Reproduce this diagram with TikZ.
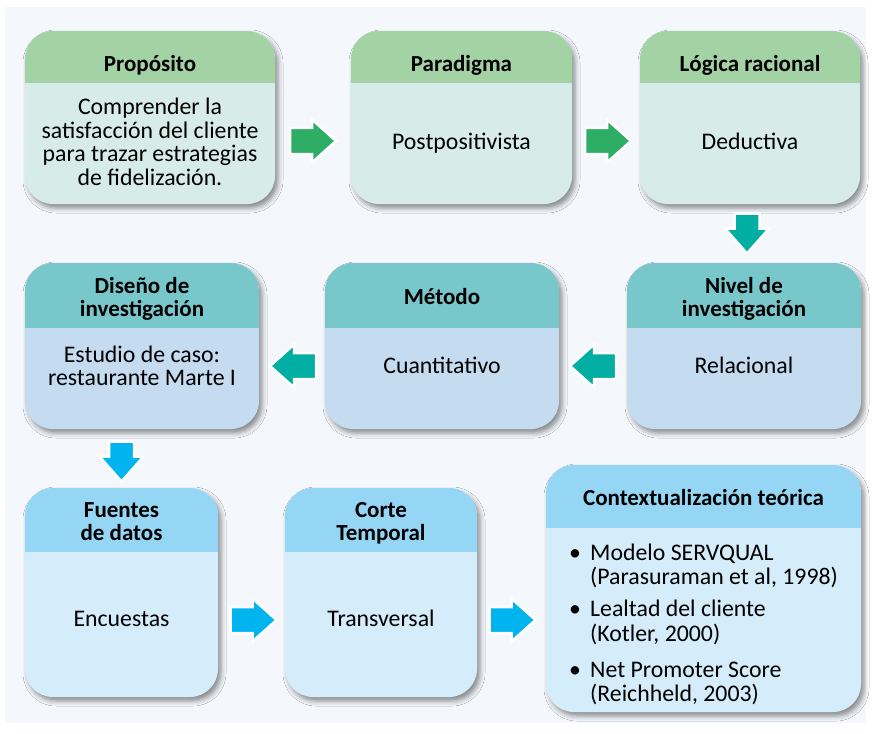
\documentclass[tikz,border=0pt]{standalone}
\usepackage{fontspec}
\setmainfont{Carlito}
\usetikzlibrary{calc,shadows.blur}

\definecolor{pagebg}{HTML}{F4F8FC}
\definecolor{hdrgreen}{HTML}{A3D2A5}
\definecolor{bodygreen}{HTML}{D7ECE9}
\definecolor{hdrteal}{HTML}{78C7CB}
\definecolor{bodyteal}{HTML}{C5DBF0}
\definecolor{hdrsky}{HTML}{96D6F5}
\definecolor{bodysky}{HTML}{D5ECFB}
\definecolor{arrgreen}{HTML}{2EAE64}
\definecolor{arrteal}{HTML}{00AFA1}
\definecolor{arrsky}{HTML}{00B4EF}

% stacked lines whose base is the baseline of the first line
\newcommand\stacklines[1]{\begin{tabular}[t]{@{}c@{}}#1\end{tabular}}

% #1 name, #2 x, #3 y, #4 width, #5 height, #6 header height, #7 header colour, #8 body colour
\newcommand\stagebox[8]{%
  \node[stagecard, minimum width=#4pt, minimum height=#5pt, fill=#8,
        path picture={\fill[#7, sharp corners]
          (path picture bounding box.north west) rectangle
          ([yshift=-#6pt]path picture bounding box.north east);}]
    (#1) at (#2,#3) {};}

\tikzset{
  stagecard/.style={anchor=north west, inner sep=0pt, outer sep=0pt,
    rounded corners=28pt,
    blur shadow={shadow xshift=3pt, shadow yshift=-4pt,
                 shadow blur radius=5pt, shadow opacity=45}},
  titletext/.style={anchor=base, inner sep=0pt,
    font=\bfseries\fontsize{23}{23}\selectfont},
  bodytext/.style={anchor=base, inner sep=0pt,
    font=\fontsize{23.8}{23}\selectfont},
  flowarrow/.style={draw=white, line width=2.5pt, line join=miter},
  harrow/.pic={\path[pic actions] (-23,-13) -- (-1,-13) -- (-1,-21.5) -- (23,0)
      -- (-1,21.5) -- (-1,13) -- (-23,13) -- cycle;},
  varrow/.pic={\path[pic actions] (-20,-12.5) -- (-5,-12.5) -- (-5,-22) -- (20,0)
      -- (-5,22) -- (-5,12.5) -- (-20,12.5) -- cycle;},
}

\begin{document}
\begin{tikzpicture}[x=1pt,y=-1pt]
  \useasboundingbox (0,0) rectangle (872,733);
  \fill[white] (0,0) rectangle (872,733);
  \fill[pagebg] (5,7) rectangle (866,723);

  % first row
  \stagebox{pro}{25}{31}{250}{173}{52}{hdrgreen}{bodygreen}
  \stagebox{par}{351}{31}{221}{173}{52}{hdrgreen}{bodygreen}
  \stagebox{log}{640}{31}{220}{173}{52}{hdrgreen}{bodygreen}
  % second row
  \stagebox{dis}{25}{263}{234}{166}{65}{hdrteal}{bodyteal}
  \stagebox{met}{325}{263}{234}{166}{65}{hdrteal}{bodyteal}
  \stagebox{niv}{627}{263}{234}{166}{65}{hdrteal}{bodyteal}
  % third row
  \stagebox{fue}{25}{488}{193}{209}{64}{hdrsky}{bodysky}
  \stagebox{cor}{285}{488}{192}{209}{64}{hdrsky}{bodysky}
  \stagebox{ctx}{546}{465}{315}{247}{63}{hdrsky}{bodysky}

  % titles and contents
  \node[titletext] (pro-t) at (150,72) {Propósito};
  \node[bodytext] (pro-b) at (150,115) {\stacklines{Comprender la\\satisfacción del cliente\\para trazar estrategias\\de fidelización.}};
  \node[titletext] (par-t) at (461.5,72) {Paradigma};
  \node[bodytext] (par-b) at (461.5,149) {Postpositivista};
  \node[titletext] (log-t) at (750,72) {Lógica racional};
  \node[bodytext] (log-b) at (750,149) {Deductiva};

  \node[titletext] (dis-t) at (142,293) {\stacklines{Diseño de\\investigación}};
  \node[bodytext] (dis-b) at (142,362) {\stacklines{Estudio de caso:\\restaurante Marte I}};
  \node[titletext] (met-t) at (442,304) {Método};
  \node[bodytext] (met-b) at (442,373) {Cuantitativo};
  \node[titletext] (niv-t) at (744,293) {\stacklines{Nivel de\\investigación}};
  \node[bodytext] (niv-b) at (744,373) {Relacional};

  \node[titletext] (fue-t) at (121.5,517) {\stacklines{Fuentes\\de datos}};
  \node[bodytext] (fue-b) at (121.5,626) {Encuestas};
  \node[titletext] (cor-t) at (381,517) {\stacklines{Corte\\Temporal}};
  \node[bodytext] (cor-b) at (381,626) {Transversal};
  \node[titletext] (ctx-t) at (703.5,505) {Contextualización teórica};
  \node[bodytext, anchor=base west] (ctx-b) at (569,560) {%
    \begin{tabular}[t]{@{}p{21pt}@{}l@{}}
      \textbullet & Modelo SERVQUAL\\
                  & (Parasuraman et al, 1998)\\[9pt]
      \textbullet & Lealtad del cliente\\
                  & (Kotler, 2000)\\[13pt]
      \textbullet & Net Promoter Score\\
                  & (Reichheld, 2003)
    \end{tabular}};

  % block arrows between the stages
  \pic[flowarrow, fill=arrgreen] at ($(pro.east)!0.5!(par.west)+(0,23.5)$) {harrow};
  \pic[flowarrow, fill=arrgreen] at ($(par.east)!0.5!(log.west)+(2,23.5)$) {harrow};
  \pic[flowarrow, fill=arrteal, rotate=-90] at ($(log.south)!0.5!(niv.north)$) {varrow};
  \pic[flowarrow, fill=arrteal, rotate=180] at ($(niv.west)!0.5!(met.east)+(0,20)$) {harrow};
  \pic[flowarrow, fill=arrteal, rotate=180] at ($(met.west)!0.5!(dis.east)+(1,20)$) {harrow};
  \pic[flowarrow, fill=arrsky, rotate=-90] at ($(fue.north |- dis.south)!0.5!(fue.north)+(0,3)$) {varrow};
  \pic[flowarrow, fill=arrsky] at ($(fue.east)!0.5!(cor.west)+(2,27.5)$) {harrow};
  \pic[flowarrow, fill=arrsky] at ($(cor.east)!0.5!(ctx.west)+(1,29.5)$) {harrow};
\end{tikzpicture}
\end{document}
